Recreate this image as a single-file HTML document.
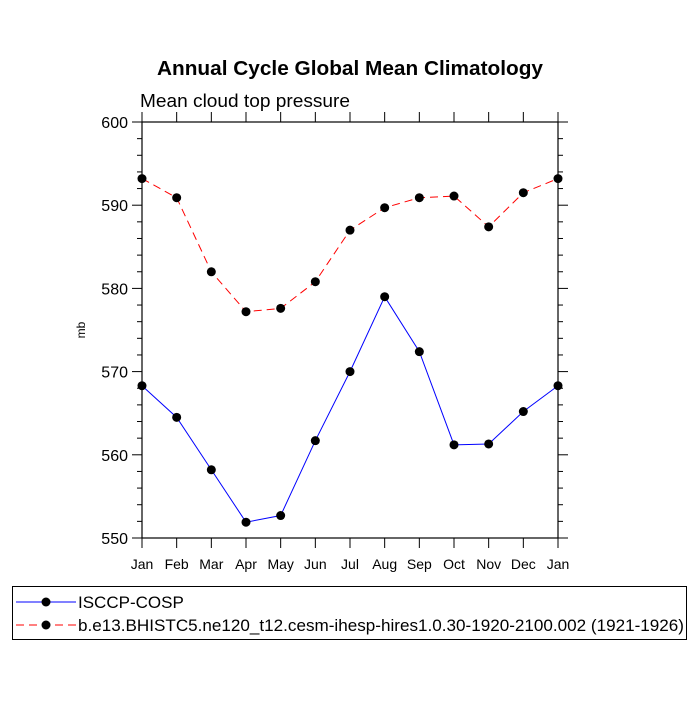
<!DOCTYPE html>
<html><head><meta charset="utf-8"><style>
body{margin:0;background:#fff}
svg text{font-family:"Liberation Sans",sans-serif;fill:#000}
</style></head><body>
<svg id="chart" width="700" height="700" viewBox="0 0 700 700">
<text x="157" y="75" font-size="20.5" font-weight="bold" textLength="386" lengthAdjust="spacingAndGlyphs">Annual Cycle Global Mean Climatology</text>
<text x="140" y="107" font-size="18" textLength="210" lengthAdjust="spacingAndGlyphs">Mean cloud top pressure</text>
<text x="85" y="330" font-size="12" text-anchor="middle" transform="rotate(-90 85 330)">mb</text>
<g id="axes"></g>
<g id="series"></g>
<g>
<rect x="12.5" y="586.5" width="674" height="53" fill="none" stroke="#000" stroke-width="1"/>
<g>
<line x1="16" y1="602" x2="76" y2="602" stroke="#00f" stroke-width="1"/>
<circle cx="46" cy="602" r="4.5" fill="#000"/>
<text x="78" y="608" font-size="17">ISCCP-COSP</text></g>
<g>
<line x1="16" y1="625" x2="76" y2="625" stroke="#f00" stroke-width="1" stroke-dasharray="8,5"/>
<circle cx="46" cy="625" r="4.5" fill="#000"/>
<text x="78" y="631" font-size="17" textLength="606" lengthAdjust="spacingAndGlyphs">b.e13.BHISTC5.ne120_t12.cesm-ihesp-hires1.0.30-1920-2100.002 (1921-1926)</text></g>
</g>
</svg>
<script>
const months=["Jan","Feb","Mar","Apr","May","Jun","Jul","Aug","Sep","Oct","Nov","Dec","Jan"];
const obsValues=[568.3,564.5,558.2,551.9,552.7,561.7,570,579,572.4,561.2,561.3,565.2,568.3];
const modelValues=[593.2,590.9,582,577.2,577.6,580.8,587,589.7,590.9,591.1,587.4,591.5,593.2];
const yTicks=[550,560,570,580,590,600];
const NS="http://www.w3.org/2000/svg";
const L=142,R=558,T=122,B=538,yMin=550,yMax=600;
function xs(i){return L+(R-L)*i/(months.length-1);}
function ys(v){return B-(v-yMin)/(yMax-yMin)*(B-T);}
function mk(tag,at,parent){const e=document.createElementNS(NS,tag);for(const k in at)e.setAttribute(k,at[k]);parent.appendChild(e);return e;}
const ax=document.getElementById('axes'),se=document.getElementById('series');
const frame=mk('rect',{x:L,y:T,width:R-L,height:B-T,fill:'none',stroke:'#000','stroke-width':1.2},ax);


months.forEach((m,i)=>{const x=xs(i);
 mk('line',{x1:x,y1:B,x2:x,y2:B+10,stroke:'#000'},ax);
 mk('line',{x1:x,y1:T,x2:x,y2:T-10,stroke:'#000'},ax);
 const t=mk('text',{x:x,y:B+31,'text-anchor':'middle','font-size':14},ax);t.textContent=m;
 
 
});
for(let v=yMin;v<=yMax;v+=2){const y=ys(v);const major=(v%10===0);const len=major?10:5;
 mk('line',{x1:L,y1:y,x2:L-len,y2:y,stroke:'#000'},ax);
 mk('line',{x1:R,y1:y,x2:R+len,y2:y,stroke:'#000'},ax);}
yTicks.forEach(v=>{const t=mk('text',{x:L-14,y:ys(v)+6,'text-anchor':'end','font-size':16},ax);t.textContent=v;
 
 });
function series(vals,color,dash,name){
 const p=mk('polyline',{points:vals.map((v,i)=>xs(i)+','+ys(v)).join(' '),fill:'none',stroke:color,'stroke-width':1,'stroke-dasharray':dash},se);
 
 
 vals.forEach((v,i)=>{const c=mk('circle',{cx:xs(i),cy:ys(v),r:4.5,fill:'#000'},se);
  
  });
}
series(modelValues,'#f00','8,5','model');
series(obsValues,'#00f','none','isccp');
</script>
</body></html>
